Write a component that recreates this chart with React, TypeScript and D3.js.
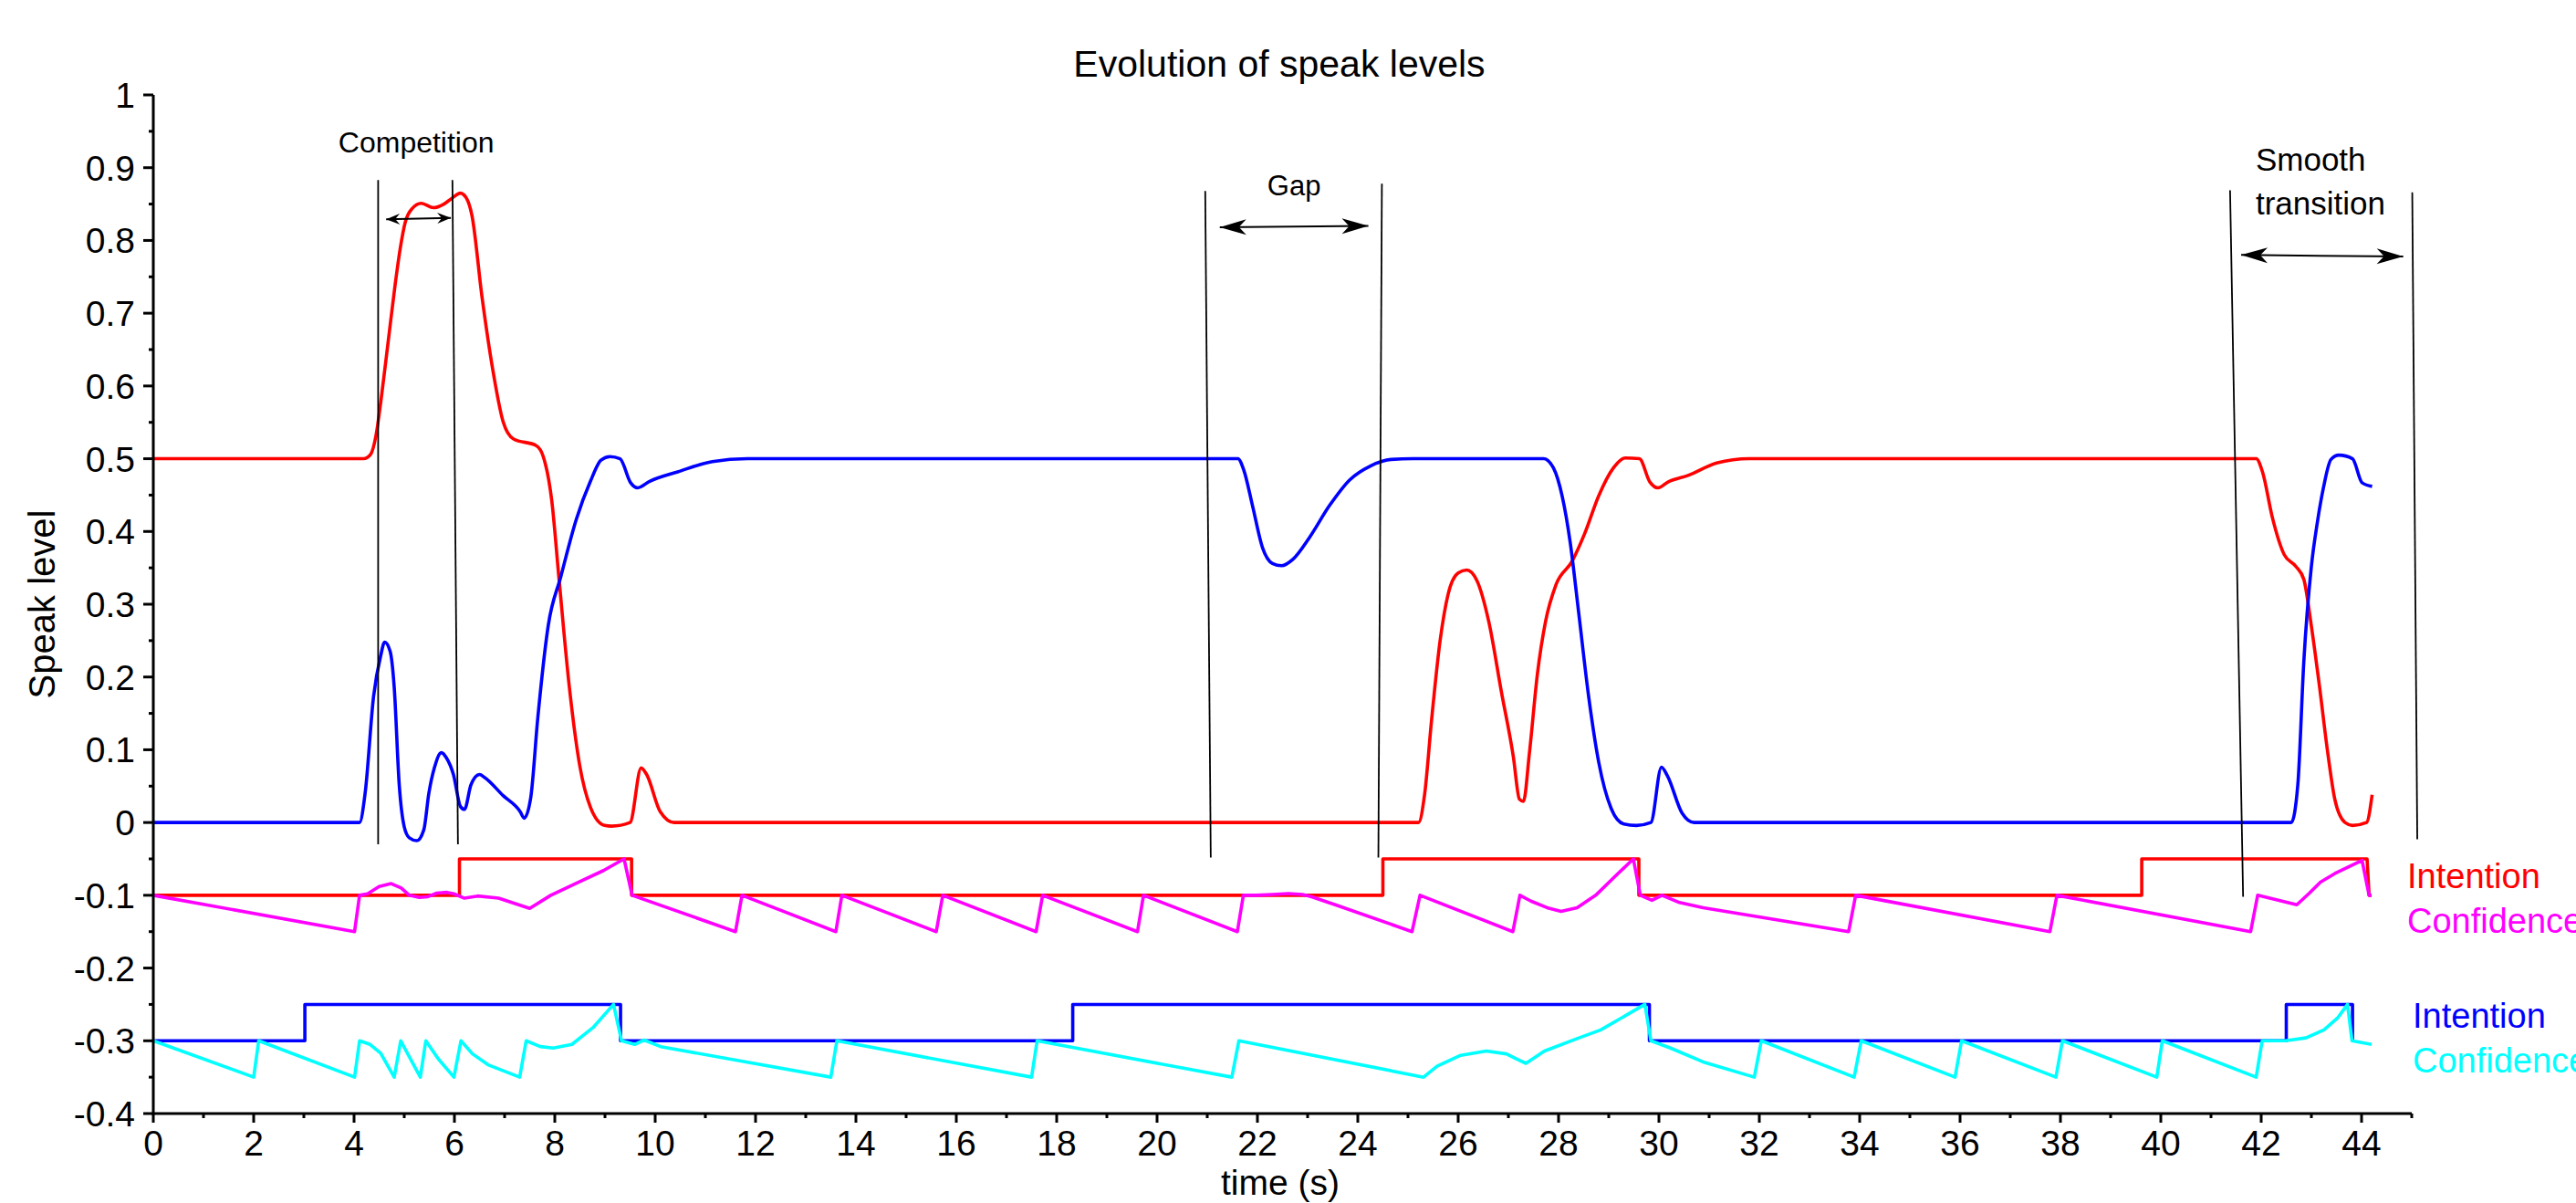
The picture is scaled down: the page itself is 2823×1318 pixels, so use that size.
import React from "react";
import * as d3 from "d3";

type P = [number, number];

// ---- data (time in s, speak level) ----
const speak1: P[] = [
  [0, 0.5], [4.19, 0.5], [4.33, 0.506], [4.44, 0.533], [4.54, 0.582], [4.68, 0.661], [4.82, 0.74],
  [4.92, 0.789], [5.02, 0.825], [5.16, 0.844], [5.34, 0.851], [5.58, 0.845], [5.79, 0.85], [5.95, 0.858],
  [6.12, 0.865], [6.24, 0.858], [6.35, 0.834], [6.55, 0.722], [6.76, 0.624], [6.97, 0.551], [7.18, 0.527],
  [7.63, 0.518], [7.77, 0.503], [7.94, 0.442], [8.08, 0.338], [8.29, 0.186], [8.5, 0.077], [8.71, 0.021],
  [8.99, -0.004], [9.13, -0.005], [9.5, 0.0], [9.72, 0.075], [9.83, 0.066], [10.1, 0.015], [10.38, 0.0],
  [25.21, 0], [25.33, 0.038], [25.47, 0.141], [25.64, 0.25], [25.8, 0.314], [26.0, 0.343], [26.17, 0.347],
  [26.37, 0.333], [26.61, 0.276], [26.86, 0.18], [27.1, 0.09], [27.22, 0.032], [27.3, 0.029], [27.42, 0.096],
  [27.58, 0.205], [27.74, 0.276], [27.95, 0.327], [28.27, 0.359], [28.52, 0.397], [28.8, 0.449], [29.09, 0.487],
  [29.33, 0.501], [29.61, 0.5], [29.82, 0.468], [29.98, 0.46], [30.18, 0.468], [30.58, 0.477], [31.15, 0.494],
  [31.8, 0.5], [41.9, 0.5], [42.03, 0.481], [42.22, 0.42], [42.46, 0.368], [42.69, 0.352], [42.85, 0.334],
  [43.0, 0.27], [43.16, 0.188], [43.32, 0.099], [43.47, 0.031], [43.67, 0.0], [43.82, -0.004], [44.1, 0.0],
  [44.21, 0.038],
];

const speak2: P[] = [
  [0, 0], [4.11, 0], [4.22, 0.04], [4.39, 0.174], [4.53, 0.229], [4.61, 0.248], [4.72, 0.235], [4.8, 0.186],
  [4.9, 0.052], [5.0, -0.006], [5.1, -0.021], [5.25, -0.025], [5.39, -0.01], [5.49, 0.04], [5.6, 0.075],
  [5.74, 0.096], [5.84, 0.089], [5.98, 0.066], [6.12, 0.022], [6.2, 0.018], [6.33, 0.052], [6.5, 0.066],
  [6.6, 0.062], [6.97, 0.037], [7.31, 0.015], [7.39, 0.006], [7.52, 0.034], [7.66, 0.143], [7.87, 0.271],
  [8.12, 0.338], [8.43, 0.417], [8.71, 0.469], [8.92, 0.498], [9.1, 0.503], [9.3, 0.5], [9.51, 0.467],
  [9.65, 0.46], [9.89, 0.469], [10.45, 0.482], [11.14, 0.496], [11.84, 0.5], [21.61, 0.5], [21.73, 0.484],
  [21.9, 0.436], [22.1, 0.378], [22.3, 0.356], [22.48, 0.353], [22.71, 0.362], [23.03, 0.391], [23.44, 0.436],
  [23.84, 0.471], [24.25, 0.49], [24.66, 0.499], [25.1, 0.5], [27.7, 0.5], [27.9, 0.487], [28.07, 0.449],
  [28.23, 0.386], [28.4, 0.289], [28.6, 0.173], [28.8, 0.083], [29.05, 0.019], [29.3, -0.002], [29.55, -0.004],
  [29.84, 0.0], [30.05, 0.076], [30.17, 0.064], [30.46, 0.013], [30.7, 0], [42.6, 0], [42.73, 0.052],
  [42.85, 0.222], [43.0, 0.352], [43.12, 0.413], [43.24, 0.46], [43.39, 0.499], [43.55, 0.505], [43.82, 0.5],
  [44.01, 0.467], [44.21, 0.462],
];

const intention1: P[] = [
  [0, -0.1], [6.1, -0.1], [6.1, -0.05], [9.53, -0.05], [9.53, -0.1], [24.5, -0.1], [24.5, -0.05],
  [29.6, -0.05], [29.6, -0.1], [39.62, -0.1], [39.62, -0.05], [44.11, -0.05], [44.15, -0.1], [44.2, -0.1],
];

const confidence1: P[] = [
  [0, -0.1], [4.01, -0.15], [4.11, -0.1], [4.27, -0.098], [4.5, -0.088], [4.74, -0.084], [4.94, -0.09],
  [5.1, -0.1], [5.3, -0.103], [5.47, -0.102], [5.65, -0.097], [5.85, -0.096], [5.99, -0.098], [6.2, -0.104],
  [6.46, -0.101], [6.88, -0.104], [7.5, -0.118], [7.92, -0.1], [8.44, -0.083], [8.97, -0.066], [9.38, -0.05],
  [9.54, -0.1], [11.6, -0.15], [11.73, -0.1], [13.6, -0.15], [13.72, -0.1], [15.6, -0.15], [15.73, -0.1],
  [17.59, -0.15], [17.72, -0.1], [19.61, -0.15], [19.73, -0.1], [21.6, -0.15], [21.72, -0.1], [21.97, -0.1],
  [22.3, -0.099], [22.62, -0.0976], [22.9, -0.099], [23.08, -0.102], [23.55, -0.113], [25.08, -0.15],
  [25.24, -0.1], [27.09, -0.15], [27.23, -0.1], [27.45, -0.108], [27.77, -0.117], [28.05, -0.122],
  [28.37, -0.117], [28.74, -0.1], [29.11, -0.075], [29.49, -0.05], [29.63, -0.1], [29.86, -0.107],
  [30.06, -0.1], [30.41, -0.11], [30.88, -0.117], [33.78, -0.15], [33.92, -0.1], [37.79, -0.15],
  [37.93, -0.1], [41.79, -0.15], [41.93, -0.1], [42.71, -0.113], [42.96, -0.097], [43.18, -0.082],
  [43.47, -0.07], [44.01, -0.052], [44.15, -0.1], [44.2, -0.1],
];

const intention2: P[] = [
  [0, -0.3], [3.02, -0.3], [3.02, -0.25], [9.31, -0.25], [9.31, -0.3], [18.32, -0.3], [18.32, -0.25],
  [29.81, -0.25], [29.81, -0.3], [42.5, -0.3], [42.5, -0.25], [43.82, -0.25], [43.82, -0.3],
];

const confidence2: P[] = [
  [0, -0.3], [2.0, -0.35], [2.1, -0.3], [4.01, -0.35], [4.11, -0.3], [4.32, -0.305], [4.53, -0.317],
  [4.8, -0.35], [4.93, -0.3], [5.32, -0.35], [5.43, -0.3], [5.68, -0.325], [5.99, -0.35], [6.13, -0.3],
  [6.36, -0.318], [6.67, -0.333], [7.3, -0.35], [7.43, -0.3], [7.71, -0.308], [7.97, -0.31], [8.34, -0.305],
  [8.76, -0.282], [9.17, -0.25], [9.33, -0.3], [9.59, -0.305], [9.78, -0.299], [10.11, -0.308], [13.5, -0.35],
  [13.62, -0.3], [17.5, -0.35], [17.61, -0.3], [21.49, -0.35], [21.63, -0.3], [25.31, -0.35], [25.58, -0.335],
  [26.05, -0.32], [26.56, -0.314], [26.96, -0.318], [27.16, -0.325], [27.35, -0.331], [27.72, -0.314],
  [28.37, -0.297], [28.84, -0.285], [29.72, -0.25], [29.84, -0.3], [30.23, -0.31], [30.88, -0.329],
  [31.9, -0.35], [32.04, -0.3], [33.89, -0.35], [34.03, -0.3], [35.9, -0.35], [36.03, -0.3], [37.91, -0.35],
  [38.04, -0.3], [39.92, -0.35], [40.03, -0.3], [41.9, -0.35], [42.02, -0.3], [42.48, -0.3], [42.89, -0.296],
  [43.25, -0.285], [43.53, -0.268], [43.72, -0.25], [43.81, -0.3], [44.2, -0.305],
];

// annotation lines: [t1, v1, t2, v2]
const markerLines: [number, number, number, number][] = [
  [4.48, 0.883, 4.48, -0.03],
  [5.96, 0.883, 6.07, -0.03],
  [20.96, 0.868, 21.07, -0.048],
  [24.48, 0.878, 24.41, -0.048],
  [41.38, 0.869, 41.64, -0.102],
  [45.01, 0.866, 45.11, -0.023],
];

const arrows: { t1: number; v1: number; t2: number; v2: number; small: boolean }[] = [
  { t1: 4.64, v1: 0.829, t2: 5.93, v2: 0.831, small: true },
  { t1: 21.25, v1: 0.818, t2: 24.21, v2: 0.82, small: false },
  { t1: 41.6, v1: 0.78, t2: 44.83, v2: 0.778, small: false },
];

const notes: { lines: string[]; t: number; v: number; anchor: string; size: number }[] = [
  { lines: ["Competition"], t: 5.24, v: 0.921, anchor: "middle", size: 32 },
  { lines: ["Gap"], t: 22.73, v: 0.862, anchor: "middle", size: 31 },
  { lines: ["Smooth", "transition"], t: 41.89, v: 0.896, anchor: "start", size: 35 },
];

const legendItems: { label: string; color: string; v: number; dx: number }[] = [
  { label: "Intention", color: "#ff0000", v: -0.09, dx: -5 },
  { label: "Confidence", color: "#ff00ff", v: -0.152, dx: -5 },
  { label: "Intention", color: "#0000ff", v: -0.282, dx: 1 },
  { label: "Confidence", color: "#00ffff", v: -0.344, dx: 1 },
];

const xMajorTicks = d3.range(0, 45, 2);
const xMinorTicks = d3.range(1, 46, 2);
const yMajorTicks = d3.range(-4, 11).map((i) => i / 10);
const yMinorTicks = d3.range(-4, 10).map((i) => i / 10 + 0.05);

const W = 2823;
const H = 1318;
const FONT = "'Liberation Sans', Arial, Helvetica, sans-serif";

export default function App() {
  const xs = d3.scaleLinear().domain([0, 45]).range([168, 2643]);
  const ys = d3.scaleLinear().domain([-0.4, 1]).range([1220, 104]);

  const smooth = d3
    .line<P>()
    .x((d) => xs(d[0]))
    .y((d) => ys(d[1]))
    .curve(d3.curveMonotoneX);
  const straight = d3
    .line<P>()
    .x((d) => xs(d[0]))
    .y((d) => ys(d[1]));

  const x0 = xs(0);
  const yBase = ys(-0.4);
  const fmt = (v: number) => String(+v.toFixed(1));
  const lw = 3.6;

  return (
    <svg
      width={W}
      height={H}
      viewBox={`0 0 ${W} ${H}`}
      style={{ position: "absolute", left: 0, top: 0, display: "block", background: "#fff" }}
      fontFamily={FONT}
    >
      <defs>
        <marker id="ahBig" viewBox="-31 -10 32 20" refX={0} refY={0} markerWidth={32} markerHeight={20}
          markerUnits="userSpaceOnUse" orient="auto-start-reverse">
          <path d="M0,0 L-29,-8.5 L-21,0 L-29,8.5 Z" fill="#000" />
        </marker>
        <marker id="ahSmall" viewBox="-16 -8 17 16" refX={0} refY={0} markerWidth={17} markerHeight={16}
          markerUnits="userSpaceOnUse" orient="auto-start-reverse">
          <path d="M0,0 L-15,-6 L-10,0 L-15,6 Z" fill="#000" />
        </marker>
      </defs>

      <rect x={0} y={0} width={W} height={H} fill="#fff" />

      {/* title */}
      <text x={1402} y={84} textAnchor="middle" fontSize={41} fill="#000">
        Evolution of speak levels
      </text>

      {/* data lines */}
      <path d={smooth(speak1) || ""} fill="none" stroke="#ff0000" strokeWidth={lw} strokeLinejoin="round" />
      <path d={smooth(speak2) || ""} fill="none" stroke="#0000ff" strokeWidth={lw} strokeLinejoin="round" />
      <path d={straight(intention1) || ""} fill="none" stroke="#ff0000" strokeWidth={lw} strokeLinejoin="round" />
      <path d={straight(confidence1) || ""} fill="none" stroke="#ff00ff" strokeWidth={lw} strokeLinejoin="round" />
      <path d={straight(intention2) || ""} fill="none" stroke="#0000ff" strokeWidth={lw} strokeLinejoin="round" />
      <path d={straight(confidence2) || ""} fill="none" stroke="#00ffff" strokeWidth={lw} strokeLinejoin="round" />

      {/* annotation lines */}
      {markerLines.map((m, i) => (
        <line key={`ml${i}`} x1={xs(m[0])} y1={ys(m[1])} x2={xs(m[2])} y2={ys(m[3])} stroke="#000" strokeWidth={1.8} />
      ))}
      {arrows.map((a, i) => (
        <line key={`ar${i}`} x1={xs(a.t1)} y1={ys(a.v1)} x2={xs(a.t2)} y2={ys(a.v2)} stroke="#000"
          strokeWidth={2} markerStart={`url(#${a.small ? "ahSmall" : "ahBig"})`}
          markerEnd={`url(#${a.small ? "ahSmall" : "ahBig"})`} />
      ))}
      {notes.map((n, i) =>
        n.lines.map((l, j) => (
          <text key={`nt${i}-${j}`} x={xs(n.t)} y={ys(n.v) + j * n.size * 1.36} textAnchor={n.anchor as any}
            fontSize={n.size} fill="#000">
            {l}
          </text>
        ))
      )}

      {/* legend */}
      {legendItems.map((l, i) => (
        <text key={`lg${i}`} x={xs(45) + l.dx} y={ys(l.v)} fontSize={38} fill={l.color}>
          {l.label}
        </text>
      ))}

      {/* axes */}
      <line x1={x0} y1={ys(1)} x2={x0} y2={yBase + 1.5} stroke="#000" strokeWidth={3} />
      <line x1={x0 - 1.5} y1={yBase} x2={xs(45)} y2={yBase} stroke="#000" strokeWidth={3} />
      {yMajorTicks.map((v) => (
        <g key={`ym${v}`}>
          <line x1={x0 - 11} y1={ys(v)} x2={x0} y2={ys(v)} stroke="#000" strokeWidth={3} />
          <text x={148} y={ys(v) + 14} textAnchor="end" fontSize={39} fill="#000">
            {fmt(v)}
          </text>
        </g>
      ))}
      {yMinorTicks.map((v) => (
        <line key={`yn${v}`} x1={x0 - 5} y1={ys(v)} x2={x0} y2={ys(v)} stroke="#000" strokeWidth={3} />
      ))}
      {xMajorTicks.map((t) => (
        <g key={`xm${t}`}>
          <line x1={xs(t)} y1={yBase} x2={xs(t)} y2={yBase + 10} stroke="#000" strokeWidth={3} />
          <text x={xs(t)} y={1266} textAnchor="middle" fontSize={39} fill="#000">
            {t}
          </text>
        </g>
      ))}
      {xMinorTicks.map((t) => (
        <line key={`xn${t}`} x1={xs(t)} y1={yBase} x2={xs(t)} y2={yBase + 5} stroke="#000" strokeWidth={3} />
      ))}

      {/* axis titles */}
      <text x={1403} y={1309} textAnchor="middle" fontSize={39} fill="#000">
        time (s)
      </text>
      <text transform={`translate(60, ${(ys(1) + yBase) / 2}) rotate(-90)`} textAnchor="middle" fontSize={40} fill="#000">
        Speak level
      </text>
    </svg>
  );
}
